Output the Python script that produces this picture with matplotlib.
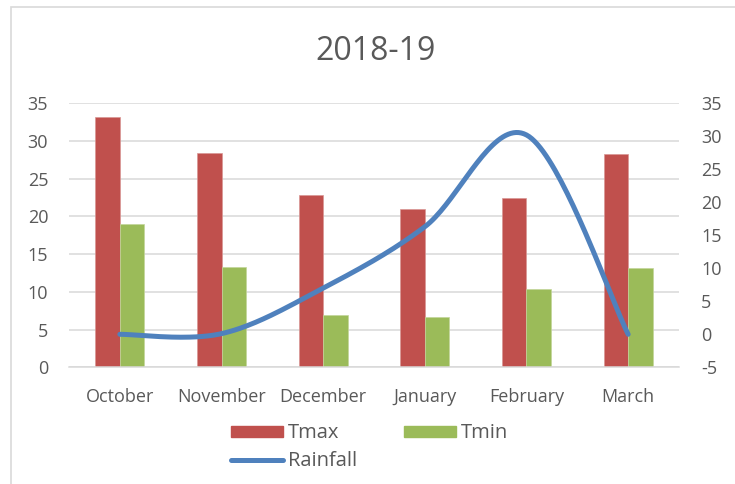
import matplotlib
matplotlib.use("Agg")
import matplotlib.pyplot as plt
from matplotlib.lines import Line2D
from matplotlib.patches import Patch, Rectangle
import numpy as np

months = ["October", "November", "December", "January", "February", "March"]
tmax = [33.2, 28.4, 22.8, 21.0, 22.5, 28.3]
tmin = [19.0, 13.3, 6.9, 6.7, 10.4, 13.1]
rainfall = [0.0, 0.1, 7.0, 16.3, 30.2, 0.0]

RED = "#C0504D"
GREEN = "#9BBB59"
BLUE = "#4F81BD"
GRID = "#D9D9D9"
TEXT = "#595959"

plt.rcParams["font.family"] = ["Open Sans", "DejaVu Sans"]
plt.rcParams["axes.unicode_minus"] = False


def smooth(y, n=40):
    # Excel-style smoothed line: cubic Bezier segments with Catmull-Rom control points
    p = np.column_stack([np.arange(len(y)), y]).astype(float)
    ext = np.vstack([p[0], p, p[-1]])
    out = []
    t = np.linspace(0, 1, n)[:, None]
    for i in range(len(p) - 1):
        p0, p3 = p[i], p[i + 1]
        c1 = p0 + (ext[i + 2] - ext[i]) / 6
        c2 = p3 - (ext[i + 3] - ext[i + 1]) / 6
        seg = (1 - t) ** 3 * p0 + 3 * (1 - t) ** 2 * t * c1 + 3 * (1 - t) * t ** 2 * c2 + t ** 3 * p3
        out.append(seg if i == 0 else seg[1:])
    out = np.vstack(out)
    return out[:, 0], out[:, 1]


fig = plt.figure(figsize=(7.35, 4.84), dpi=100)
ax = fig.add_axes([0.0939, 0.2411, 0.8299, 0.5455])
x = np.arange(len(months))
w = 0.24
ax.bar(x - w / 2, tmax, width=w, color=RED, edgecolor="#D99694", linewidth=0.5, zorder=2)
ax.bar(x + w / 2, tmin, width=w, color=GREEN, edgecolor="#C3D69B", linewidth=0.5, zorder=2)
ax.set_xlim(-0.5, len(months) - 0.5)
ax.set_ylim(0, 35)
ax.set_yticks(range(0, 36, 5))
ax.set_xticks(x)
ax.set_xticklabels(months)
ax.grid(axis="y", color=GRID, linewidth=1.1, zorder=0)
ax.set_axisbelow(True)
for s in ["top", "left", "right"]:
    ax.spines[s].set_visible(False)
ax.spines["bottom"].set_color(GRID)
ax.spines["bottom"].set_linewidth(1.1)
ax.tick_params(axis="y", length=0, pad=15, labelsize=13, labelcolor=TEXT)
ax.tick_params(axis="x", length=0, pad=15, labelsize=13, labelcolor=TEXT)

ax2 = ax.twinx()
ax2.set_ylim(-5, 35)
ax2.set_yticks(range(-5, 36, 5))
sx, sy = smooth(rainfall)
ax2.plot(sx, sy, color=BLUE, linewidth=3.6, solid_capstyle="round", zorder=3)
for s in ax2.spines.values():
    s.set_visible(False)
ax2.tick_params(axis="y", length=0, pad=16, labelsize=13, labelcolor=TEXT)

fig.text(0.511, 0.893, "2018-19", ha="center", va="center", fontsize=23, color=TEXT)

handles = [
    Patch(color=RED, label="Tmax"),
    Line2D([], [], color=BLUE, linewidth=3.6, solid_capstyle="round", label="Rainfall"),
    Patch(color=GREEN, label="Tmin"),
]
fig.legend(handles=handles, ncol=2, loc="upper left", bbox_to_anchor=(0.314, 0.125),
           frameon=False, fontsize=14.5, labelcolor=TEXT, handlelength=2.6,
           handleheight=0.5, handletextpad=0.25, columnspacing=2.3, labelspacing=0.38,
           borderpad=0, borderaxespad=0)

fig.patches.append(Rectangle((10.5 / 735, -0.1), 1.0, 1.1 - 6.5 / 484, fill=False,
                             edgecolor=GRID, linewidth=1.2, transform=fig.transFigure,
                             figure=fig, clip_on=False))

fig.savefig("out.png", dpi=100)
